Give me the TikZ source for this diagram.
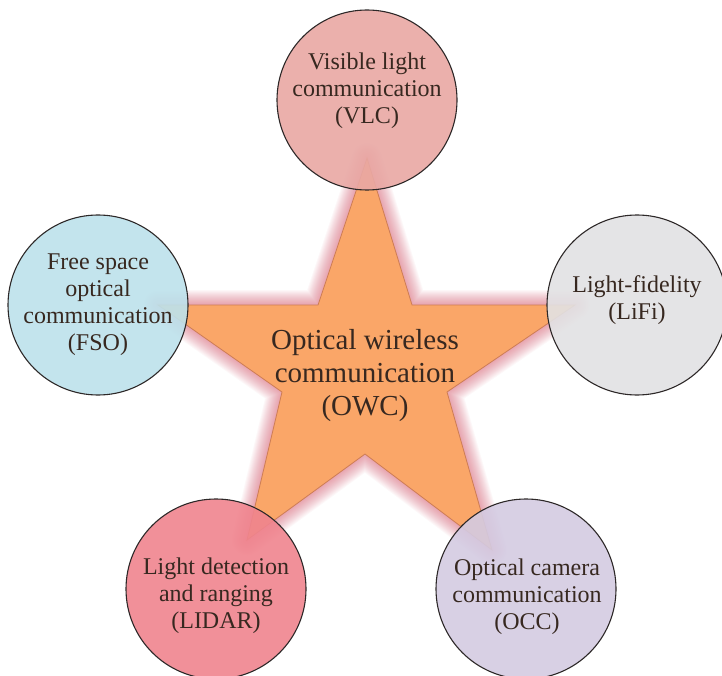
\documentclass[tikz,border=0pt]{standalone}
\usepackage{fontspec}
\setmainfont{Liberation Serif}
\usetikzlibrary{calc}
\begin{document}
\definecolor{starfill}{RGB}{250,166,104}
\definecolor{starline}{RGB}{205,125,85}
\definecolor{glowred}{RGB}{215,70,95}
\definecolor{vlcfill}{RGB}{233,168,164}
\definecolor{fsofill}{RGB}{189,226,236}
\definecolor{lififill}{RGB}{226,226,228}
\definecolor{lidarfill}{RGB}{240,132,142}
\definecolor{occfill}{RGB}{212,203,226}
\definecolor{inkcol}{RGB}{55,40,32}
\definecolor{rimcol}{RGB}{45,40,40}
\begin{tikzpicture}[x=1pt,y=-1pt,
  bubble/.style={circle, draw=rimcol, line width=1.1pt, minimum size=180pt,
    inner sep=0pt, fill opacity=0.9},
  bubbletext/.style={text=inkcol, align=center, inner sep=0pt,
    font=\fontsize{24}{27}\selectfont},
  hubtext/.style={text=inkcol, align=center, inner sep=0pt,
    font=\fontsize{29}{33}\selectfont}]
\useasboundingbox (0,0) rectangle (722,676);
\fill[white] (0,0) rectangle (722,676);

% star outline points
\coordinate (sT)  at (367,158);
\coordinate (sTR) at (412,305);
\coordinate (sR)  at (575,305);
\coordinate (sRi) at (447,392);
\coordinate (sBR) at (492,550);
\coordinate (sB)  at (365,454);
\coordinate (sBL) at (247,540);
\coordinate (sLi) at (282,392);
\coordinate (sL)  at (158,305);
\coordinate (sTL) at (318,305);

% soft reddish glow around the star, built from many faint strokes
\foreach \w in {30,28,...,2}
  \draw[glowred, line width=\w pt, opacity=0.04, line join=round]
    (sT) -- (sTR) -- (sR) -- (sRi) -- (sBR) -- (sB) -- (sBL) -- (sLi) -- (sL) -- (sTL) -- cycle;

% the star itself
\draw[fill=starfill, draw=starline, line width=0.8pt, line join=miter]
  (sT) -- (sTR) -- (sR) -- (sRi) -- (sBR) -- (sB) -- (sBL) -- (sLi) -- (sL) -- (sTL) -- cycle;

\node[hubtext] (owc) at (365,376) {Optical wireless\\communication\\(OWC)};

% surrounding technologies
\node[bubble, fill=vlcfill]   (vlc)   at (367,100) {};
\node[bubble, fill=fsofill]   (fso)   at (98,305)  {};
\node[bubble, fill=lififill]  (lifi)  at (637,305) {};
\node[bubble, fill=lidarfill] (lidar) at (216,589) {};
\node[bubble, fill=occfill]   (occ)   at (526,589) {};

\node[bubbletext] (vlct)   at ($(vlc)+(0,-9)$)   {Visible light\\communication\\(VLC)};
\node[bubbletext] (fsot)   at (fso)              {Free space\\optical\\communication\\(FSO)};
\node[bubbletext] (lifit)  at ($(lifi)+(0,-5)$)  {Light-fidelity\\(LiFi)};
\node[bubbletext] (lidart) at ($(lidar)+(0,7)$)  {Light detection\\and ranging\\(LIDAR)};
\node[bubbletext] (occt)   at ($(occ)+(1,8)$)    {Optical camera\\communication\\(OCC)};
\end{tikzpicture}
\end{document}
